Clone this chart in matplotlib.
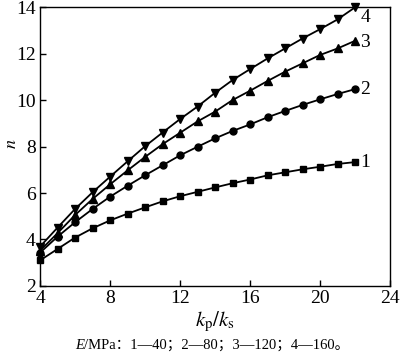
import matplotlib
matplotlib.use("Agg")
import matplotlib.pyplot as plt

# ============ DATA ============
kp_ks = list(range(4, 23))
n_40 = [3.10, 3.59, 4.08, 4.48, 4.82, 5.11, 5.38, 5.64, 5.86, 6.05, 6.24, 6.42,
        6.58, 6.76, 6.89, 7.02, 7.13, 7.25, 7.33]
n_80 = [3.43, 4.12, 4.74, 5.31, 5.84, 6.31, 6.76, 7.19, 7.62, 7.99, 8.35, 8.67,
        8.95, 9.26, 9.53, 9.79, 10.03, 10.26, 10.47]
n_120 = [3.52, 4.27, 5.05, 5.74, 6.37, 6.97, 7.55, 8.10, 8.59, 9.08, 9.50, 10.00,
         10.40, 10.82, 11.22, 11.58, 11.94, 12.22, 12.55]
n_160 = [3.69, 4.51, 5.31, 6.03, 6.70, 7.36, 8.01, 8.60, 9.18, 9.72, 10.31, 10.86,
         11.33, 11.79, 12.22, 12.65, 13.05, 13.47, 13.99]
curve_labels = ["1", "2", "3", "4"]
caption_rest = "/MPa：1—40；2—80；3—120；4—160。"

# ============ STYLE ============
plt.rcParams["font.family"] = ["Liberation Serif", "Noto Sans CJK SC"]
plt.rcParams["mathtext.fontset"] = "stix"

fig = plt.figure(figsize=(4.0, 3.57), dpi=100)
ax = fig.add_axes([0.1, 0.199, 0.875, 0.781])

# (values, marker, marker size, label nudge in points)
series = [(n_40, "s", 4.5, 0), (n_80, "o", 5, 0),
          (n_120, "^", 5.5, -1), (n_160, "v", 5.5, -7)]
for (vals, mk, ms, dy), lab in zip(series, curve_labels):
    ax.plot(kp_ks, vals, color="black", lw=1.3, marker=mk, ms=ms,
            clip_on=False, zorder=3)
    ax.annotate(lab, xy=(kp_ks[-1], vals[-1]), xytext=(4, dy),
                textcoords="offset points", va="center", ha="left",
                fontsize=14)

ax.set_xlim(4, 24)
ax.set_ylim(2, 14)
ax.set_xticks(range(4, 25, 4))
ax.set_yticks(range(2, 15, 2))
ax.tick_params(direction="in", labelsize=14, length=4, width=1,
               top=False, right=False, pad=3)
for sp in ax.spines.values():
    sp.set_linewidth(1.0)

ax.set_xlabel(r"$k_{\rm p}/k_{\rm s}$", fontsize=15, labelpad=2)
ax.set_ylabel(r"$n$", fontsize=13)
ax.yaxis.set_label_coords(-0.058, 0.51)

# caption under the chart
t1 = fig.text(0.188, 0.022, "E", fontsize=10.5, style="italic")
ax.annotate(caption_rest, xy=(1, 0), xycoords=t1, va="bottom", ha="left",
            fontsize=10.5)

fig.savefig("out.png", dpi=100)
